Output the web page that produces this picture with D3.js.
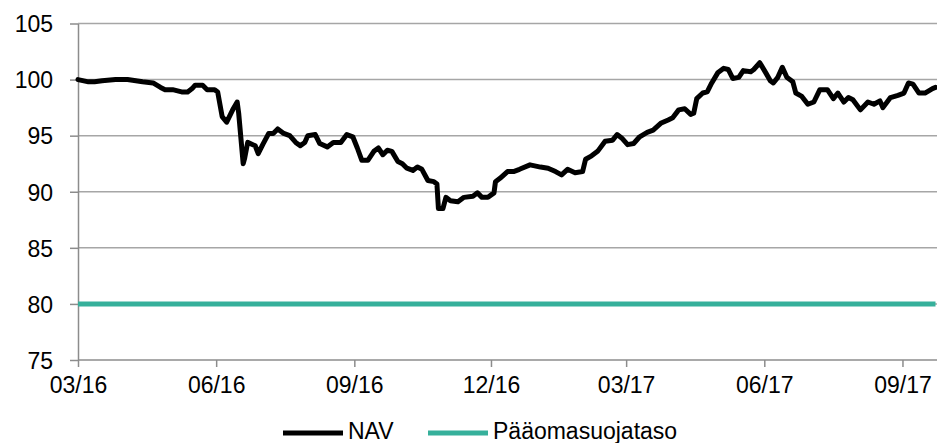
<!DOCTYPE html>
<html>
<head>
<meta charset="utf-8">
<script src="https://cdn.jsdelivr.net/npm/d3@7"></script>
<style>
  body { margin: 0; background: #fff; }
  svg { display: block; font-family: "Liberation Sans", Arial, sans-serif; }
  .grid line { stroke: #a6a6a6; stroke-width: 1.5px; }
  .axis path, .axis line { stroke: #8c8c8c; stroke-width: 1.5px; }
  .axis text { font-size: 23px; fill: #000; }
  .legend text { font-size: 23px; fill: #000; }
</style>
</head>
<body>
<svg id="chart" width="937" height="443"></svg>
<script>

// NAV series
var navDates = [
  "2016-03-01","2016-03-08","2016-03-12","2016-03-17","2016-03-26","2016-04-03","2016-04-13","2016-04-20",
  "2016-04-25","2016-04-28","2016-05-03","2016-05-09","2016-05-13","2016-05-16","2016-05-18","2016-05-23",
  "2016-05-26","2016-05-31","2016-06-02","2016-06-05","2016-06-08","2016-06-12","2016-06-15","2016-06-16",
  "2016-06-19","2016-06-20","2016-06-22","2016-06-27","2016-06-29","2016-07-02","2016-07-06","2016-07-09",
  "2016-07-12","2016-07-16","2016-07-20","2016-07-24","2016-07-27","2016-07-30","2016-08-01","2016-08-06",
  "2016-08-09","2016-08-14","2016-08-18","2016-08-23","2016-08-27","2016-08-31","2016-09-03","2016-09-06",
  "2016-09-10","2016-09-14","2016-09-17","2016-09-20","2016-09-23","2016-09-26","2016-09-30","2016-10-03",
  "2016-10-06","2016-10-10","2016-10-13","2016-10-16","2016-10-20","2016-10-24","2016-10-26","2016-10-27",
  "2016-10-30","2016-11-01","2016-11-04","2016-11-09","2016-11-13","2016-11-19","2016-11-22","2016-11-25",
  "2016-11-29","2016-12-03","2016-12-04","2016-12-07","2016-12-12","2016-12-16","2016-12-20","2016-12-27",
  "2017-01-03","2017-01-08","2017-01-13","2017-01-17","2017-01-21","2017-01-26","2017-01-31","2017-02-02",
  "2017-02-06","2017-02-10","2017-02-15","2017-02-20","2017-02-23","2017-02-26","2017-03-02","2017-03-06",
  "2017-03-10","2017-03-15","2017-03-19","2017-03-24","2017-03-29","2017-04-01","2017-04-05","2017-04-09",
  "2017-04-13","2017-04-15","2017-04-17","2017-04-21","2017-04-24","2017-04-27","2017-05-01","2017-05-05",
  "2017-05-08","2017-05-11","2017-05-15","2017-05-18","2017-05-23","2017-05-25","2017-05-29","2017-06-02",
  "2017-06-05","2017-06-07","2017-06-10","2017-06-13","2017-06-16","2017-06-20","2017-06-22","2017-06-26",
  "2017-06-30","2017-07-04","2017-07-08","2017-07-13","2017-07-17","2017-07-20","2017-07-24","2017-07-27",
  "2017-07-30","2017-08-04","2017-08-09","2017-08-13","2017-08-17","2017-08-19","2017-08-24","2017-08-29",
  "2017-09-02","2017-09-05","2017-09-08","2017-09-12","2017-09-16","2017-09-21","2017-09-23"
];
var navValues = [
  100.0, 99.8, 99.8, 99.9, 100.0, 100.0, 99.8, 99.7,
  99.3, 99.1, 99.1, 98.9, 98.9, 99.2, 99.5, 99.5,
  99.1, 99.1, 98.9, 96.7, 96.2, 97.3, 98.0, 97.0,
  92.5, 93.0, 94.4, 94.1, 93.4, 94.2, 95.2, 95.2,
  95.6, 95.2, 95.0, 94.4, 94.1, 94.4, 95.0, 95.1,
  94.3, 94.0, 94.4, 94.4, 95.1, 94.9, 93.9, 92.8,
  92.8, 93.6, 93.9, 93.3, 93.7, 93.6, 92.7, 92.5,
  92.1, 91.9, 92.2, 92.0, 91.0, 90.9, 90.7, 88.5,
  88.5, 89.5, 89.2, 89.1, 89.5, 89.6, 89.9, 89.5,
  89.5, 89.9, 90.9, 91.2, 91.8, 91.8, 92.0, 92.4,
  92.2, 92.1, 91.8, 91.5, 92.0, 91.7, 91.8, 92.9,
  93.2, 93.6, 94.5, 94.6, 95.1, 94.8, 94.2, 94.3,
  94.9, 95.3, 95.5, 96.1, 96.4, 96.6, 97.3, 97.4,
  96.9, 97.0, 98.3, 98.8, 98.9, 99.7, 100.6, 101.0,
  100.9, 100.1, 100.2, 100.8, 100.7, 100.9, 101.5, 100.6,
  99.9, 99.7, 100.2, 101.1, 100.2, 99.8, 98.8, 98.5,
  97.8, 98.0, 99.1, 99.1, 98.3, 98.8, 98.0, 98.4,
  98.2, 97.3, 98.0, 97.8, 98.1, 97.5, 98.4, 98.6,
  98.8, 99.7, 99.6, 98.8, 98.8, 99.2, 99.3
];

// capital protection level (flat)
var protectDates = ["2016-03-01", "2017-09-23"];
var protectValues = [80, 80];

var xTickDates = ["2016-03-01","2016-06-01","2016-09-01","2016-12-01","2017-03-01","2017-06-01","2017-09-01"];
var yTicks = [75, 80, 85, 90, 95, 100, 105];

var seriesNames = ["NAV", "Pääomasuojataso"];
var seriesColors = ["#000000", "#36b09b"];

var parse = d3.timeParse("%Y-%m-%d");

var plotLeft = 78, plotRight = 937, plotTop = 23.5, plotBottom = 360;

var x = d3.scaleTime()
  .domain([parse("2016-03-01"), parse("2017-09-24")])
  .range([plotLeft, plotRight]);

var y = d3.scaleLinear()
  .domain([75, 105])
  .range([plotBottom, plotTop]);

var svg = d3.select("#chart");

/* horizontal gridlines */
svg.append("g")
    .attr("class", "grid")
  .selectAll("line")
  .data(yTicks.filter(function(d) { return d > 75; }))
  .enter().append("line")
    .attr("x1", plotLeft)
    .attr("x2", plotRight)
    .attr("y1", function(d) { return y(d); })
    .attr("y2", function(d) { return y(d); });

/* y axis */
var yAxis = svg.append("g")
    .attr("class", "axis")
    .attr("transform", "translate(" + plotLeft + ",0)")
    .call(d3.axisLeft(y).tickValues(yTicks).tickSize(8).tickPadding(17).tickSizeOuter(0));
yAxis.selectAll("text").attr("dy", "0.36em");

/* x axis */
var xAxis = svg.append("g")
    .attr("class", "axis")
    .attr("transform", "translate(0," + plotBottom + ")")
    .call(d3.axisBottom(x)
      .tickValues(xTickDates.map(parse))
      .tickFormat(d3.timeFormat("%m/%y"))
      .tickSize(7).tickPadding(10).tickSizeOuter(0));
xAxis.select(".domain").attr("d", "M" + plotLeft + ",0H" + plotRight);

/* lines */
var line = d3.line()
  .x(function(d) { return x(d.date); })
  .y(function(d) { return y(d.value); });

var protect = protectDates.map(function(d, i) { return { date: parse(d), value: protectValues[i] }; });
var nav = navDates.map(function(d, i) { return { date: parse(d), value: navValues[i] }; });

svg.append("path")
    .datum(protect)
    .attr("fill", "none")
    .attr("stroke", seriesColors[1])
    .attr("stroke-width", 5)
    .attr("d", line);

svg.append("path")
    .datum(nav)
    .attr("fill", "none")
    .attr("stroke", seriesColors[0])
    .attr("stroke-width", 5)
    .attr("stroke-linejoin", "round")
    .attr("stroke-linecap", "round")
    .attr("d", line);

/* legend */
var legend = svg.append("g").attr("class", "legend");
var legendX = [283, 428];
seriesNames.forEach(function(name, i) {
  legend.append("line")
    .attr("x1", legendX[i]).attr("x2", legendX[i] + 60)
    .attr("y1", 433).attr("y2", 433)
    .attr("stroke", seriesColors[i])
    .attr("stroke-width", 5);
  legend.append("text")
    .attr("x", legendX[i] + 65)
    .attr("y", 439)
    .text(name);
});

</script>
</body>
</html>
